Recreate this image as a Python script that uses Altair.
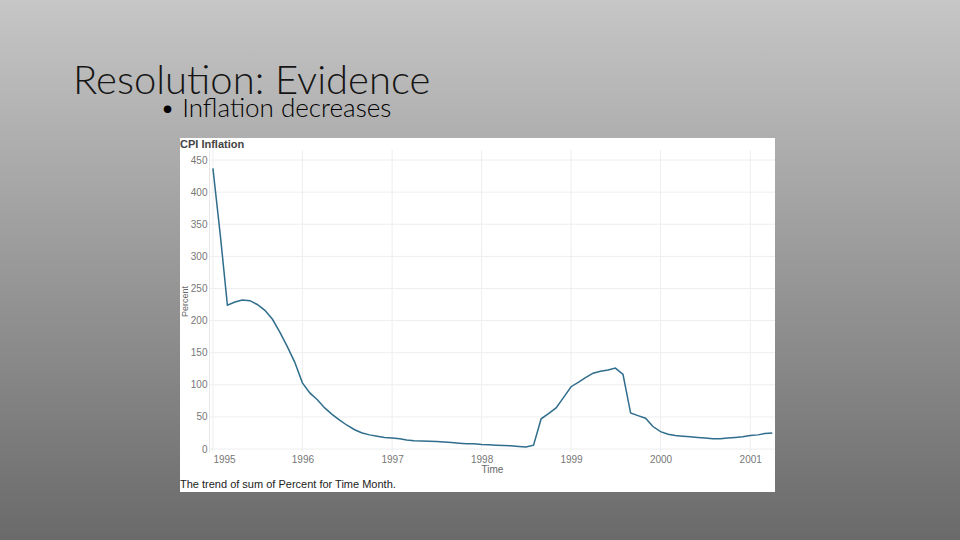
import altair as alt
import pandas as pd

# Monthly CPI inflation (percent), Jan 1995 - Apr 2001
months = [f"{1995 + i // 12}-{i % 12 + 1:02d}-01" for i in range(76)]
pct = [
    437, 330, 224, 229, 232, 231, 225, 216, 202, 182, 159, 135,   # 1995
    103, 87, 77, 64, 54, 45, 37, 30, 25, 22, 20, 18,              # 1996
    17, 16, 14, 13, 12.5, 12, 11.5, 11, 10, 9, 8, 8,              # 1997
    7, 6.5, 6, 5.5, 5, 4, 3, 6, 47, 55, 64, 80,                   # 1998
    97, 104, 111, 118, 121, 123, 126, 116, 56, 52, 48, 35,        # 1999
    27, 23, 21, 20, 19, 18, 17, 16, 16, 17, 18, 19,               # 2000
    21, 22, 24, 25,                                               # 2001
]
year_ticks = ["1995-01-01", "1996-01-01", "1997-01-01", "1998-01-01",
              "1999-01-01", "2000-01-01", "2001-01-01"]
pct_ticks = [0, 50, 100, 150, 200, 250, 300, 350, 400, 450]

slide_title = "Resolution: Evidence"
bullet = "• Inflation decreases"
chart_title = "CPI Inflation"
caption = "The trend of sum of Percent for Time Month."

df = pd.DataFrame({"month": months, "pct": pct})
vgrid = pd.DataFrame({"month": year_ticks})
hgrid = pd.DataFrame({"pct": pct_ticks})
one = pd.DataFrame({"k": [0]})

# plot-area geometry inside the 960x540 slide
L, T, W, H = 209, 150, 566, 302
R, B = 960 - L - W, 540 - T - H

x_scale = alt.Scale(
    type="utc",
    domain=[alt.DateTime(year=1994, month=12, date=16, utc=True),
            alt.DateTime(year=2001, month=4, date=12, utc=True)],
    nice=False,
)
y_scale = alt.Scale(domain=[-4.67, 465.6], nice=False, zero=False)

bg = alt.Chart(one).mark_rect(
    color=alt.Gradient(
        gradient="linear",
        stops=[alt.GradientStop(color="#c6c6c6", offset=0),
               alt.GradientStop(color="#6a6a6a", offset=1)],
        x1=0, x2=0, y1=0, y2=1,
    )
).encode(x=alt.value(-L), x2=alt.value(W + R), y=alt.value(-T), y2=alt.value(H + B))

panel = alt.Chart(one).mark_rect(color="white").encode(
    x=alt.value(180 - L), x2=alt.value(775 - L),
    y=alt.value(138 - T), y2=alt.value(492 - T),
)

# light gridlines beneath the series
grid_color = "#eeeeee"
vlines = alt.Chart(vgrid).mark_rule(color=grid_color, strokeWidth=1).encode(
    x=alt.X("month:T", scale=x_scale, axis=None),
    y=alt.value(0), y2=alt.value(H),
)
hlines = alt.Chart(hgrid).mark_rule(color=grid_color, strokeWidth=1).encode(
    y=alt.Y("pct:Q", scale=y_scale, axis=None),
    x=alt.value(0), x2=alt.value(W),
)

line = alt.Chart(df).mark_line(color="#2f6d8c", strokeWidth=1.5).encode(
    x=alt.X(
        "month:T",
        scale=x_scale,
        axis=alt.Axis(
            values=[alt.DateTime(year=int(d[:4]), month=1, date=1, utc=True) for d in year_ticks],
            format="%Y", grid=False, domain=False, ticks=False,
            labelFontSize=10, labelColor="#777777", labelFont="Liberation Sans",
            labelPadding=2, labelFlush=6, zindex=1,
            title="Time", titleFontSize=10, titleColor="#666666",
            titleFont="Liberation Sans", titleFontWeight="normal",
            titleX=283, titleY=17, titleBaseline="middle",
        ),
    ),
    y=alt.Y(
        "pct:Q",
        scale=y_scale,
        axis=alt.Axis(
            values=pct_ticks, grid=False,
            domain=True, domainColor="#e6e6e6", ticks=False,
            labelFontSize=10, labelColor="#777777", labelFont="Liberation Sans",
            labelPadding=2, zindex=1,
            title="Percent", titleFontSize=9, titleColor="#666666",
            titleFont="Liberation Sans", titleFontWeight="normal",
            titleX=-25, titleY=151, titleBaseline="middle", titleAlign="center",
        ),
    ),
)

def label(text, x, y, size, color, font, weight="normal", baseline="middle"):
    return alt.Chart(one).mark_text(
        text=text, align="left", baseline=baseline, fontSize=size,
        color=color, font=font, fontWeight=weight,
    ).encode(x=alt.value(x - L), y=alt.value(y - T))

texts = [
    label(slide_title, 73, 94, 40, "#151515", "Lato", weight=300, baseline="alphabetic"),
    label(bullet, 160, 117, 26, "#000000", "Lato", weight=300, baseline="alphabetic"),
    label(chart_title, 180, 145, 11, "#444444", "Liberation Sans", weight="bold"),
    label(caption, 180, 485, 11, "#222222", "Liberation Sans"),
]

chart = alt.layer(bg, panel, vlines, hlines, line, *texts).resolve_axis(
    x="independent", y="independent"
).properties(
    width=W, height=H,
    padding={"left": L, "top": T, "right": R, "bottom": B},
    autosize=alt.AutoSizeParams(type="none"),
    background="#9a9a9a",
).configure_view(stroke=None)

chart.save("out.html", embed_options={"renderer": "svg", "actions": False})
